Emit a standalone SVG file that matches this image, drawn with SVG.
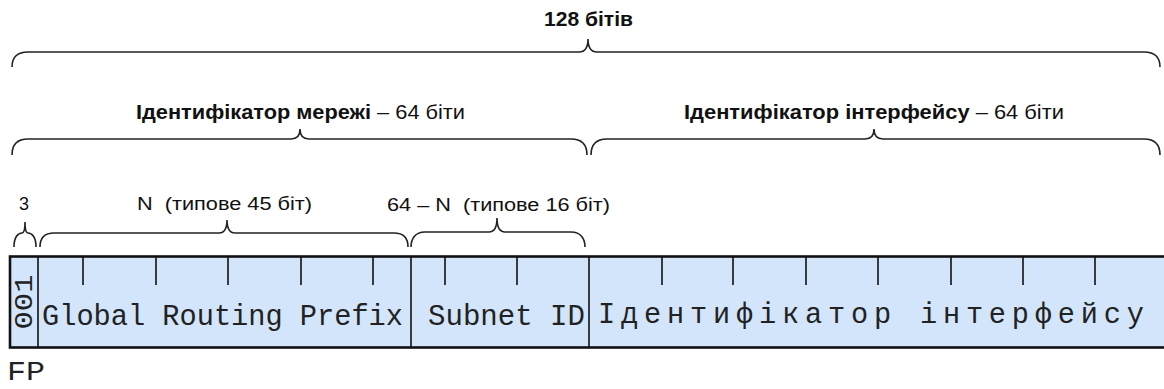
<svg xmlns="http://www.w3.org/2000/svg" width="1164" height="389" viewBox="0 0 1164 389">
<style>
.lbl{font-family:"Liberation Sans",Arial,sans-serif;fill:#111}
.b{font-weight:bold}
.mono{font-family:"Liberation Mono","Courier New",monospace;fill:#222}
.brace{fill:none;stroke:#222;stroke-width:1.6}
.tick{stroke:#111;stroke-width:1.6}
.div{stroke:#111;stroke-width:1.6}
</style>
<rect width="1164" height="389" fill="#ffffff"/>
<g id="connectors">
<path class="brace" d="M12,67 C12,58 17,52 28,52 H579 C585,52 588,48 588,39 C588,48 591,52 597,52 H1144 C1155,52 1160,58 1160,67"/>
<path class="brace" d="M12,155 C12,145 17,139 28,139 H291 C297,139 300,136 300,129 C300,136 303,139 309,139 H571 C582,139 587,145 587,155"/>
<path class="brace" d="M591,155 C591,145 596,139 607,139 H865 C871,139 874,136 874,129 C874,136 877,139 883,139 H1144 C1155,139 1160,145 1160,155"/>
<path class="brace" d="M14,247 C14,237 18,233 22,233 C24,233 25,229 25,222 C25,229 26,233 28,233 C32,233 36,237 36,247"/>
<path class="brace" d="M40,247 C40,239 44,233 54,233 H219 C224,233 227,229 227,220 C227,229 230,233 235,233 H394 C404,233 408,239 408,247"/>
<path class="brace" d="M411,247 C411,239 415,232 425,232 H489 C494,232 497,228 497,218 C497,228 500,232 505,232 H571 C581,232 585,239 585,247"/>
</g>
<g id="label-128">
<text class="lbl b" x="544" y="26" font-size="21" textLength="89" lengthAdjust="spacingAndGlyphs">128 бітів</text>
</g>
<g id="label-net">
<text class="lbl" x="136" y="119" font-size="20" textLength="329" lengthAdjust="spacingAndGlyphs"><tspan class="b">Ідентифікатор мережі</tspan> – 64 біти</text>
</g>
<g id="label-iface">
<text class="lbl" x="684" y="119" font-size="20" textLength="380" lengthAdjust="spacingAndGlyphs"><tspan class="b">Ідентифікатор інтерфейсу</tspan> – 64 біти</text>
</g>
<g id="label-3">
<text class="lbl" x="24" y="210" font-size="18" text-anchor="middle">3</text>
</g>
<g id="label-n">
<text class="lbl" x="137" y="210" font-size="18" textLength="175" lengthAdjust="spacingAndGlyphs">N&#160; (типове 45 біт)</text>
</g>
<g id="label-64n">
<text class="lbl" x="387" y="211" font-size="18" textLength="223" lengthAdjust="spacingAndGlyphs">64 – N&#160; (типове 16 біт)</text>
</g>
<g id="address">
<rect x="10" y="256.5" width="1170" height="91" fill="#d2e5fa" stroke="#111" stroke-width="2.6"/>
<line class="div" x1="38" y1="256" x2="38" y2="348"/>
<line class="div" x1="411" y1="256" x2="411" y2="348"/>
<line class="div" x1="589" y1="256" x2="589" y2="348" stroke-width="2.4"/>
<g class="tick">
<line x1="83" y1="257" x2="83" y2="285"/>
<line x1="156" y1="257" x2="156" y2="285"/>
<line x1="228" y1="257" x2="228" y2="285"/>
<line x1="301" y1="257" x2="301" y2="285"/>
<line x1="373" y1="257" x2="373" y2="285"/>
<line x1="445" y1="257" x2="445" y2="285"/>
<line x1="517" y1="257" x2="517" y2="285"/>
<line x1="662" y1="257" x2="662" y2="285"/>
<line x1="733" y1="257" x2="733" y2="285"/>
<line x1="806" y1="257" x2="806" y2="285"/>
<line x1="878" y1="257" x2="878" y2="285"/>
<line x1="951" y1="257" x2="951" y2="285"/>
<line x1="1023" y1="257" x2="1023" y2="285"/>
<line x1="1095" y1="257" x2="1095" y2="285"/>
</g>
</g>
<g id="fp">
<text class="mono" font-size="26" text-anchor="middle" transform="translate(32,302) rotate(-90)" textLength="55" lengthAdjust="spacingAndGlyphs">001</text>
</g>
<g id="grp">
<text class="mono" x="42" y="325" font-size="28.6" textLength="361" lengthAdjust="spacingAndGlyphs">Global Routing Prefix</text>
</g>
<g id="subnet">
<text class="mono" x="428" y="325" font-size="28.6" textLength="157" lengthAdjust="spacingAndGlyphs">Subnet ID</text>
</g>
<g id="iface">
<text class="mono" x="598" y="323" font-size="28.6" textLength="546" lengthAdjust="spacing">Ідентифікатор інтерфейсу</text>
</g>
<g id="fp-label">
<text class="mono" x="7" y="380" font-size="27" textLength="38" lengthAdjust="spacingAndGlyphs">FP</text>
</g>
</svg>
